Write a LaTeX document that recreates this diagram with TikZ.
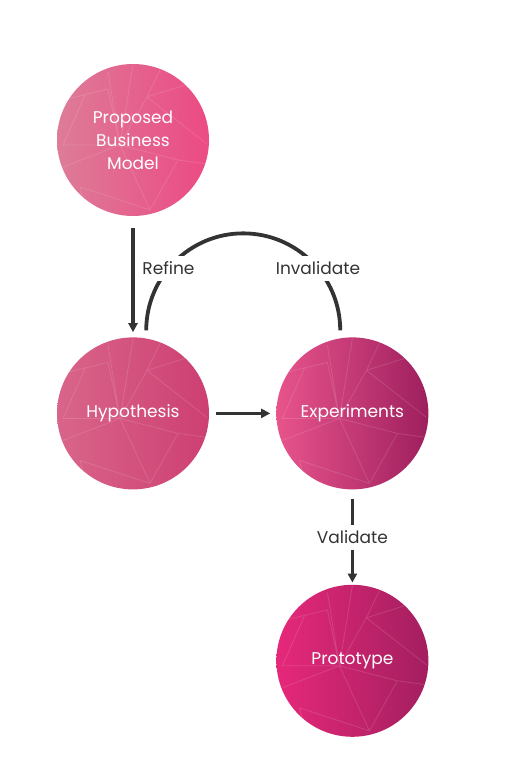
\documentclass[tikz,border=0pt]{standalone}
\usepackage{fontspec}
\setmainfont{Poppins}
\usepackage{tikz}
\usetikzlibrary{arrows.meta,positioning}

\definecolor{propL}{HTML}{DD7C98}
\definecolor{propR}{HTML}{EC4A84}
\definecolor{hypL}{HTML}{D9658A}
\definecolor{hypR}{HTML}{CD3F72}
\definecolor{expL}{HTML}{E8548C}
\definecolor{expR}{HTML}{9E1F5E}
\definecolor{protoL}{HTML}{E6287A}
\definecolor{protoR}{HTML}{A31F5F}
\definecolor{ink}{HTML}{333333}

% faint facet lines inside a bubble
\newcommand{\drawfacets}[1]{%
  \begin{scope}
    \clip (#1.center) circle[radius=76];
    \draw[facet,shift={(#1.center)}]
      (-25,68) -- (-13,-5) -- (0,75)
      (27,70) -- (14,43) -- (52,55)
      (14,43) -- (-13,-5)
      (14,43) -- (74,-4)
      (-13,-5) -- (45,-20) -- (74,-24)
      (45,-20) -- (17,-70) -- (-13,-5)
      (-53,-47) -- (17,-70)
      (-53,-47) -- (-46,-74)
      (-70,-27) -- (-13,-5) -- (-70,-5) -- (-48,45)
      (-70,40) -- (-25,51) -- (-13,-5);
  \end{scope}}

\begin{document}
\begin{tikzpicture}[x=1pt,y=1pt,>={Triangle[width=9pt,length=9pt]},
    bubble/.style={circle,minimum size=152pt,inner sep=0pt,align=center,text=white,
      font=\fontsize{17}{23}\selectfont},
    facet/.style={white,opacity=0.13,line width=0.8pt},
    arrowline/.style={->,draw=ink,fill=ink,line width=3.4pt},
    loopline/.style={draw=ink,line width=3.8pt},
    lbl/.style={fill=white,text=ink,inner sep=6pt,font=\fontsize{17}{20}\selectfont}]
  \useasboundingbox (0,0) rectangle (505,772);

  \node[bubble,left color=propL,right color=propR] (prop) at (133,632) {Proposed\\Business\\Model};
  \node[bubble,left color=hypL,right color=hypR] (hyp) [below=121pt of prop] {Hypothesis};
  \node[bubble,left color=expL,right color=expR] (exp) [right=67pt of hyp] {Experiments};
  \node[bubble,left color=protoL,right color=protoR] (proto) [below=95pt of exp] {Prototype};

  \foreach \n in {prop,hyp,exp,proto}
    \drawfacets{\n};

  \draw[arrowline,shorten <=12pt,shorten >=5pt] (prop) -- (hyp);
  \draw[arrowline,shorten <=7pt,shorten >=6pt] (hyp) -- (exp);
  \draw[arrowline,shorten <=9pt,shorten >=2pt] (exp) -- node[lbl] {Validate} (proto);

  \draw[loopline] (hyp.80) ++(0,8) arc[start angle=180,end angle=0,radius=97]
    node[lbl,pos=0.22] {Refine} node[lbl,pos=0.78] {Invalidate};
\end{tikzpicture}
\end{document}
